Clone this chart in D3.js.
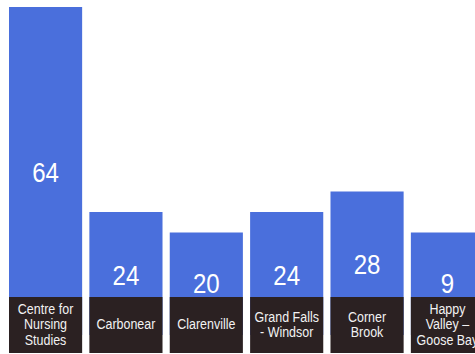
<!DOCTYPE html>
<html>
<head>
<meta charset="utf-8">
<script src="https://cdn.jsdelivr.net/npm/d3@7"></script>
<style>
  html, body { margin: 0; padding: 0; background: #ffffff; }
  svg { display: block; }
</style>
</head>
<body>
<svg id="chart" width="475" height="354"></svg>
<script>
// ---- data ----
const categories = [
  "Centre for Nursing Studies",
  "Carbonear",
  "Clarenville",
  "Grand Falls - Windsor",
  "Corner Brook",
  "Happy Valley – Goose Bay"
];
const categoryLines = [
  ["Centre for", "Nursing", "Studies"],
  ["Carbonear"],
  ["Clarenville"],
  ["Grand Falls", "- Windsor"],
  ["Corner", "Brook"],
  ["Happy", "Valley –", "Goose Bay"]
];
const values = [64, 24, 20, 24, 28, 9];
// the original draws short bars at a minimum height so the number fits
const minBarValue = 20;

// ---- layout ----
const boxTop = 297, boxBottom = 353;
const svg = d3.select("#chart");

const x = d3.scaleBand()
  .domain(categories)
  .range([9, 484])
  .paddingInner(0.09)
  .paddingOuter(0);

// zero baseline sits hidden behind the label boxes
const y = d3.scaleLinear().domain([0, 64]).range([335, 7]);

const data = categories.map((c, i) => ({
  cat: c, lines: categoryLines[i], value: values[i],
  shown: Math.max(values[i], minBarValue)
}));

const blue = "#4a6fdc";
const dark = "#2b2122";
const font = "'Liberation Sans', Arial, sans-serif";

// bars
svg.selectAll("rect.bar").data(data).enter().append("rect")
  .attr("class", "bar")
  .attr("x", d => x(d.cat))
  .attr("y", d => y(d.shown))
  .attr("width", x.bandwidth())
  .attr("height", d => y(0) - y(d.shown))
  .attr("fill", blue);

// value labels (condensed look)
svg.selectAll("text.val").data(data).enter().append("text")
  .attr("class", "val")
  .attr("transform", d => `translate(${x(d.cat) + x.bandwidth() / 2},${Math.min((y(d.shown) + boxTop) / 2 + 30, boxTop - 4)}) scale(0.86,1)`)
  .attr("text-anchor", "middle")
  .attr("fill", "#ffffff")
  .style("font-family", font)
  .style("font-size", "28px")
  .text(d => d.value);

// category boxes
svg.selectAll("rect.box").data(data).enter().append("rect")
  .attr("class", "box")
  .attr("x", d => x(d.cat))
  .attr("y", boxTop)
  .attr("width", x.bandwidth())
  .attr("height", boxBottom - boxTop)
  .attr("fill", dark);

const lineH = 15.5, midY = 324.5;
const lab = svg.selectAll("text.cat").data(data).enter().append("text")
  .attr("class", "cat")
  .attr("transform", d => `translate(${x(d.cat) + x.bandwidth() / 2},0) scale(0.86,1)`)
  .attr("text-anchor", "middle")
  .attr("fill", "#f2f2f2")
  .style("font-family", font)
  .style("font-size", "14.5px");

lab.each(function(d) {
  const n = d.lines.length;
  const t = d3.select(this);
  d.lines.forEach((ln, j) => {
    t.append("tspan")
      .attr("x", 0)
      .attr("y", midY + (j - (n - 1) / 2) * lineH + 5)
      .text(ln);
  });
});
</script>
</body>
</html>
